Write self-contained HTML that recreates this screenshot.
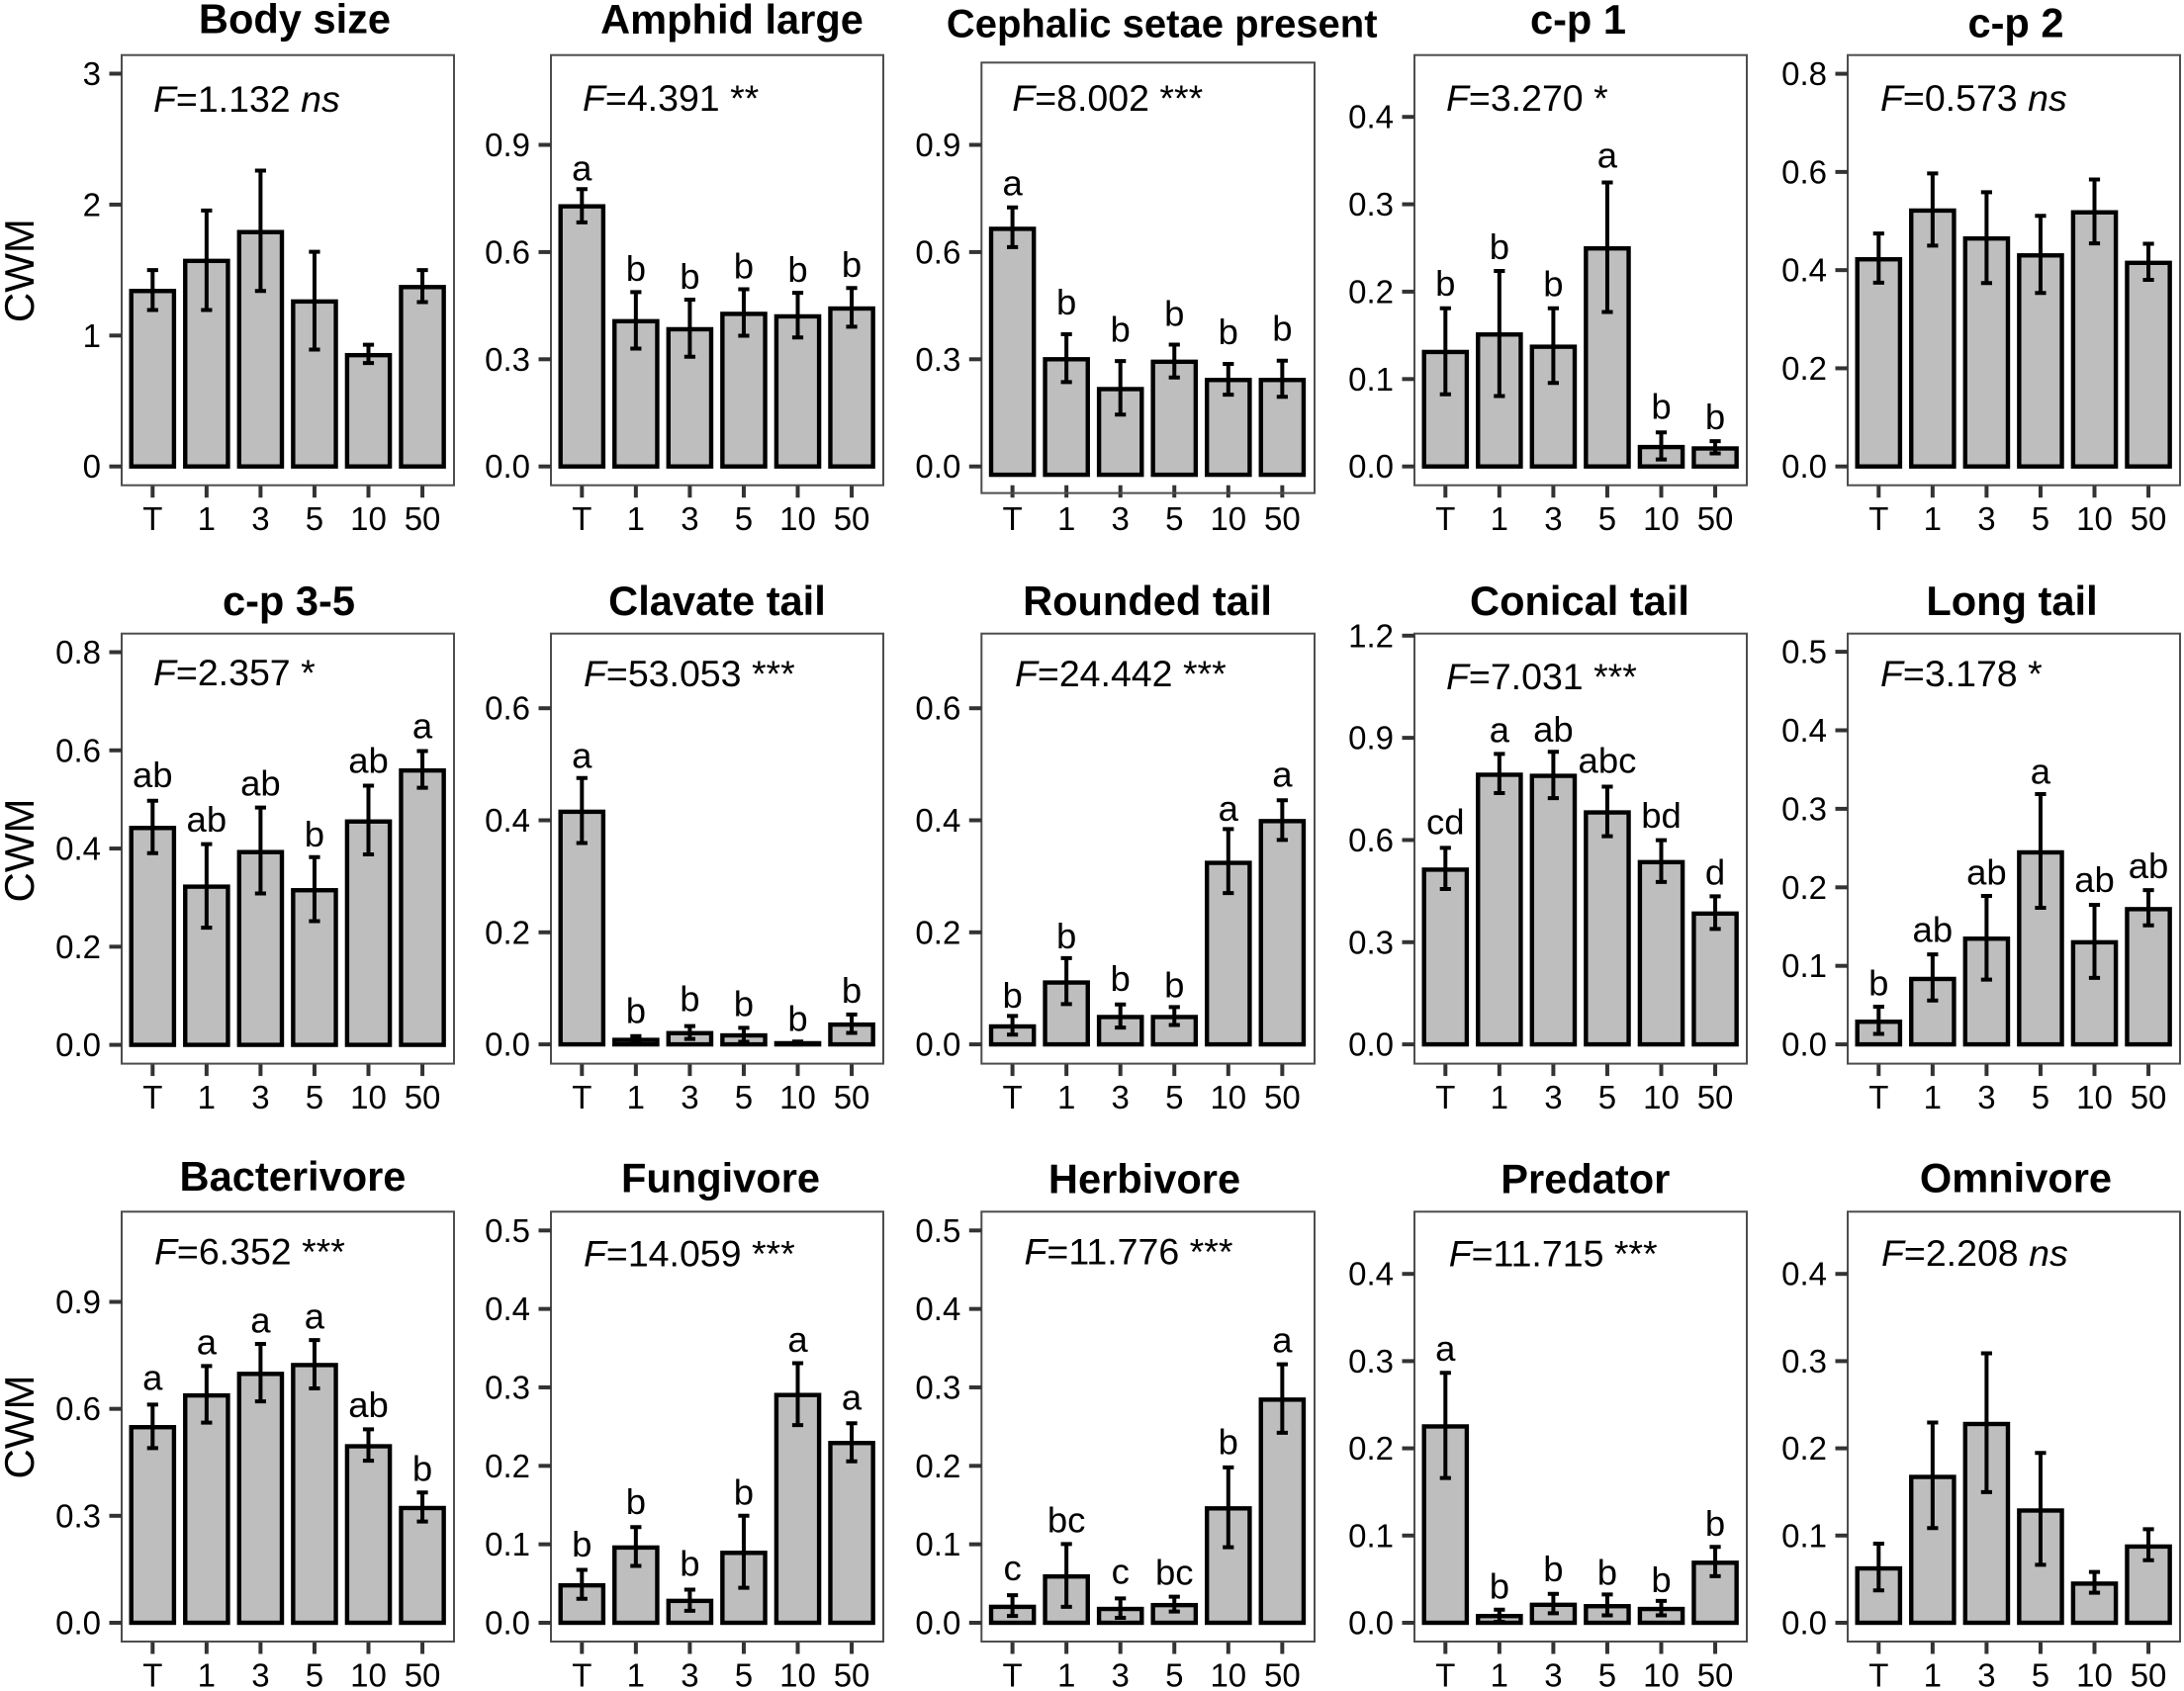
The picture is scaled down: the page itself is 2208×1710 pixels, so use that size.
<!DOCTYPE html>
<html lang="en">
<head>
<meta charset="utf-8">
<title>Community weighted means by treatment</title>
<style>
html,body{margin:0;padding:0;background:#fff;}
svg{display:block;font-family:"Liberation Sans",Arial,sans-serif;}
</style>
</head>
<body>
<svg id="chart" xmlns="http://www.w3.org/2000/svg" width="2208" height="1710" viewBox="0 0 2208 1710"></svg>
<script>
const categories = ["T","1","3","5","10","50"];
const panelTitles = ["Body size","Amphid large","Cephalic setae present","c-p 1","c-p 2","c-p 3-5","Clavate tail","Rounded tail","Conical tail","Long tail","Bacterivore","Fungivore","Herbivore","Predator","Omnivore"];
const fValues = ["1.132","4.391","8.002","3.270","0.573","2.357","53.053","24.442","7.031","3.178","6.352","14.059","11.776","11.715","2.208"];
const significance = ["ns","**","***","*","ns","*","***","***","***","*","***","***","***","***","ns"];
const yTickValues = [
 [0,1,2,3],[0,0.3,0.6,0.9],[0,0.3,0.6,0.9],[0,0.1,0.2,0.3,0.4],[0,0.2,0.4,0.6,0.8],
 [0,0.2,0.4,0.6,0.8],[0,0.2,0.4,0.6],[0,0.2,0.4,0.6],[0,0.3,0.6,0.9,1.2],[0,0.1,0.2,0.3,0.4,0.5],
 [0,0.3,0.6,0.9],[0,0.1,0.2,0.3,0.4,0.5],[0,0.1,0.2,0.3,0.4,0.5],[0,0.1,0.2,0.3,0.4],[0,0.1,0.2,0.3,0.4]
];
const yTickLabels = [
 ["0","1","2","3"],["0.0","0.3","0.6","0.9"],["0.0","0.3","0.6","0.9"],["0.0","0.1","0.2","0.3","0.4"],["0.0","0.2","0.4","0.6","0.8"],
 ["0.0","0.2","0.4","0.6","0.8"],["0.0","0.2","0.4","0.6"],["0.0","0.2","0.4","0.6"],["0.0","0.3","0.6","0.9","1.2"],["0.0","0.1","0.2","0.3","0.4","0.5"],
 ["0.0","0.3","0.6","0.9"],["0.0","0.1","0.2","0.3","0.4","0.5"],["0.0","0.1","0.2","0.3","0.4","0.5"],["0.0","0.1","0.2","0.3","0.4"],["0.0","0.1","0.2","0.3","0.4"]
];
const means = [
 [1.34,1.57,1.79,1.26,0.85,1.37],
 [0.728,0.4065,0.384,0.427,0.42,0.442],
 [0.665,0.30,0.2165,0.293,0.242,0.242],
 [0.131,0.151,0.137,0.2495,0.0222,0.0206],
 [0.422,0.5213,0.4644,0.43,0.5177,0.4148],
 [0.4418,0.3223,0.3927,0.315,0.455,0.559],
 [0.4152,0.008,0.02,0.016,0.002,0.0353],
 [0.032,0.1104,0.0488,0.0488,0.324,0.3985],
 [0.513,0.7916,0.7884,0.681,0.535,0.384],
 [0.0288,0.0833,0.1346,0.2445,0.13,0.1722],
 [0.5485,0.6376,0.698,0.7228,0.495,0.3218],
 [0.0477,0.0959,0.0279,0.0891,0.2903,0.2291],
 [0.0203,0.059,0.0176,0.0225,0.1458,0.2844],
 [0.2251,0.0077,0.0206,0.019,0.0158,0.0688],
 [0.0623,0.1672,0.2279,0.1287,0.0449,0.0874]
];
const errUpper = [
 [1.50,1.955,2.26,1.64,0.93,1.50],
 [0.776,0.488,0.467,0.496,0.486,0.4995],
 [0.725,0.37,0.295,0.341,0.287,0.296],
 [0.181,0.2237,0.181,0.325,0.039,0.029],
 [0.4745,0.597,0.5588,0.5105,0.5847,0.4536],
 [0.4974,0.4088,0.4835,0.3824,0.528,0.5985],
 [0.4755,0.0148,0.0327,0.0295,0.005,0.0533],
 [0.0507,0.154,0.0712,0.0667,0.3844,0.4357],
 [0.577,0.8528,0.859,0.7567,0.5995,0.4348],
 [0.048,0.1145,0.189,0.3187,0.1777,0.1964],
 [0.612,0.72,0.782,0.793,0.5426,0.3653],
 [0.0675,0.122,0.0423,0.1364,0.3308,0.2543],
 [0.0351,0.1004,0.031,0.0333,0.198,0.3294],
 [0.2866,0.015,0.0332,0.0324,0.0251,0.087],
 [0.0907,0.2296,0.3089,0.1947,0.0583,0.1073]
];
const errLower = [
 [1.195,1.195,1.34,0.893,0.79,1.255],
 [0.683,0.33,0.307,0.366,0.361,0.391],
 [0.614,0.236,0.145,0.249,0.201,0.195],
 [0.0825,0.0805,0.0955,0.1767,0.008,0.015],
 [0.3744,0.45,0.3737,0.3535,0.4544,0.3802],
 [0.3905,0.2388,0.3084,0.252,0.388,0.5238],
 [0.3594,0.002,0.0096,0.0045,0,0.0205],
 [0.0173,0.0719,0.03,0.0347,0.27,0.365],
 [0.456,0.7377,0.723,0.611,0.477,0.339],
 [0.0133,0.0559,0.0824,0.174,0.0847,0.1516],
 [0.49,0.5614,0.6208,0.6574,0.4545,0.284],
 [0.0306,0.0725,0.0153,0.0446,0.252,0.2057],
 [0.0086,0.0203,0.0063,0.0144,0.0963,0.2421],
 [0.166,0.0012,0.0109,0.0085,0.0085,0.0534],
 [0.0372,0.1085,0.1498,0.0664,0.0344,0.0717]
];
const groupLetters = [
 [],
 ["a","b","b","b","b","b"],
 ["a","b","b","b","b","b"],
 ["b","b","b","a","b","b"],
 [],
 ["ab","ab","ab","b","ab","a"],
 ["a","b","b","b","b","b"],
 ["b","b","b","b","a","a"],
 ["cd","a","ab","abc","bd","d"],
 ["b","ab","ab","a","ab","ab"],
 ["a","a","a","a","ab","b"],
 ["b","b","b","b","a","a"],
 ["c","bc","c","bc","b","a"],
 ["a","b","b","b","b","b"],
 []
];

/* layout (pixels) kept apart from the data */
const frames = [
 {l:123,r:459,t:55.7,b:490.7,y0:471.7,yTop:74.5,tx:298,ty:33.6,fx:155,fy:113,ts:41.6},
 {l:557,r:893,t:55.7,b:490.7,y0:471.7,yTop:146.5,tx:740,ty:34,fx:589,fy:112,ts:41.6},
 {l:992.3,r:1329,t:63.3,b:498.6,y0:471.7,yTop:146.5,shift:8.4,axisB:490.7,tx:1174.7,ty:37.6,fx:1023.3,fy:112,ts:40},
 {l:1430,r:1766,t:55.7,b:490.7,y0:471.7,yTop:118.2,tx:1595.5,ty:34,fx:1462,fy:112,ts:41.6},
 {l:1868,r:2204,t:55.7,b:490.7,y0:471.7,yTop:74.6,tx:2038,ty:37.7,fx:1901,fy:112,ts:41.6},
 {l:123,r:459,t:640.7,b:1075.6,y0:1056.6,yTop:659.5,tx:292,ty:622,fx:155,fy:693,ts:41.6},
 {l:557,r:893,t:640.7,b:1075.6,y0:1056.1,yTop:716.2,tx:725,ty:622,fx:590,fy:694,ts:41.6},
 {l:992.3,r:1329,t:640.7,b:1075.6,y0:1056.1,yTop:716.2,tx:1160,ty:622,fx:1026,fy:694,ts:41.6},
 {l:1430,r:1766,t:640.7,b:1075.6,y0:1056.1,yTop:642.8,tx:1597,ty:622,fx:1462,fy:697,ts:41.6},
 {l:1868,r:2204,t:640.7,b:1075.6,y0:1056.1,yTop:659.1,tx:2034,ty:622,fx:1901,fy:694,ts:41.6},
 {l:123,r:459,t:1225.3,b:1660,y0:1641,yTop:1316.5,tx:296,ty:1204,fx:156,fy:1278.5,ts:41.6},
 {l:557,r:893,t:1225.3,b:1660,y0:1641,yTop:1244.3,tx:728.5,ty:1205.6,fx:590,fy:1280.5,ts:41.6},
 {l:992.3,r:1329,t:1225.3,b:1660,y0:1641,yTop:1244.3,tx:1157,ty:1206.7,fx:1035.5,fy:1278.5,ts:41.6},
 {l:1430,r:1766,t:1225.3,b:1660,y0:1641,yTop:1288.2,tx:1602.8,ty:1206.7,fx:1464.7,fy:1280.5,ts:41.6},
 {l:1868,r:2204,t:1225.3,b:1660,y0:1641,yTop:1288.2,tx:2038,ty:1205.6,fx:1902,fy:1280,ts:41.6}
];
const letterOffsets = [
 [],
 [9,11.5,11,11,11,11],
 [12.4,20,19.7,19,20,20],
 [12.5,12,12,15,13.6,12],
 [],
 [13.5,12.8,12,11,12.8,13],
 [10,13,15,12,11,11.7],
 [8.4,10,14,10,8.4,14],
 [14,11.7,10,14,12.4,11.7],
 [11.7,12.8,11.7,10.6,13,12],
 [14.7,11.8,11.5,11.5,12.2,11.8],
 [13.3,13,14,11.5,11.5,13.6],
 [15,12,14.7,12,13.3,12],
 [12,11.5,12.6,9.7,9,11.5],
 []
];
const cwmLabelCentres = [273.6,860,1443];
const SVGNS = "http://www.w3.org/2000/svg";
const svg = document.getElementById("chart");

function mk(tag, parent, attrs){
  const el = document.createElementNS(SVGNS, tag);
  for (const k in attrs) el.setAttribute(k, attrs[k]);
  parent.appendChild(el);
  return el;
}
function xScale(f, i){ return f.l + 31.3 + i * 54.55; }
function yScale(f, panelIdx, v){
  const ticks = yTickValues[panelIdx];
  const top = ticks[ticks.length - 1];
  return f.y0 - v * (f.y0 - f.yTop) / top;
}

frames.forEach(function(f, p){
  const g = mk("g", svg, {});
  
  

  const title = mk("text", g, {x:f.tx, y:f.ty, "text-anchor":"middle", "font-size":f.ts, "font-weight":"700", fill:"#000"});
  title.textContent = panelTitles[p];
  
  

  const base = yScale(f, p, 0) + (f.shift || 0);
  const axisB = f.axisB || f.b;

  categories.forEach(function(cat, i){
    const cx = xScale(f, i);
    const top = yScale(f, p, means[p][i]);
    const bar = mk("rect", g, {x:cx - 21.6, y:top, width:43.2, height:Math.max(base - top, 0.5), fill:"#bebebe", stroke:"#000", "stroke-width":"4.4"});
    
    

    const yu = yScale(f, p, errUpper[p][i]);
    const yl = yScale(f, p, errLower[p][i]);
    const err = mk("path", g, {d:"M"+(cx-5.6)+" "+yu+"H"+(cx+5.6)+"M"+cx+" "+yu+"V"+yl+"M"+(cx-5.6)+" "+yl+"H"+(cx+5.6), fill:"none", stroke:"#000", "stroke-width":"4"});
    
    

    if (groupLetters[p].length) {
      const lt = mk("text", g, {x:cx, y:yu - letterOffsets[p][i], "text-anchor":"middle", "font-size":"36.5", fill:"#000"});
      lt.textContent = groupLetters[p][i];
      
      
    }

    const xt = mk("line", g, {x1:cx, x2:cx, y1:axisB, y2:axisB + 12.5, stroke:"#333", "stroke-width":"4"});
    
    

    const xl = mk("text", g, {x:cx, y:axisB + 45.5, "text-anchor":"middle", "font-size":"33", fill:"#000"});
    xl.textContent = cat;
    
    
  });

  const frame = mk("rect", g, {x:f.l, y:f.t, width:f.r - f.l, height:f.b - f.t, fill:"none", stroke:"#4d4d4d", "stroke-width":"2"});
  
  

  yTickValues[p].forEach(function(v, k){
    const y = yScale(f, p, v);
    const tk = mk("line", g, {x1:f.l - 12.5, x2:f.l, y1:y, y2:y, stroke:"#333", "stroke-width":"4"});
    
    
    const tl = mk("text", g, {x:f.l - 21, y:y + 11.5, "text-anchor":"end", "font-size":"33", fill:"#000"});
    tl.textContent = yTickLabels[p][k];
    
    
  });

  const ft = mk("text", g, {x:f.fx, y:f.fy, "font-size":"37.5", fill:"#000"});
  
  
  const fi = mk("tspan", ft, {"font-style":"italic"});
  fi.textContent = "F";
  const fv = mk("tspan", ft, {});
  fv.textContent = "=" + fValues[p] + " ";
  const fs = mk("tspan", ft, significance[p] === "ns" ? {"font-style":"italic"} : {});
  fs.textContent = significance[p];
});

cwmLabelCentres.forEach(function(cy){
  const t = mk("text", svg, {transform:"translate(34 " + cy + ") rotate(-90)", "text-anchor":"middle", "font-size":"42", fill:"#000"});
  t.textContent = "CWM";
  
  
});
</script>
</body>
</html>
